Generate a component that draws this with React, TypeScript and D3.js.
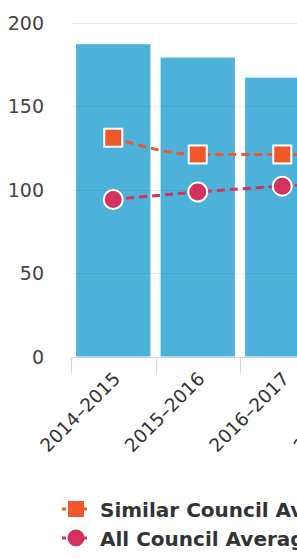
import { useEffect, useRef } from "react";
import * as d3 from "d3";

const categories = ["2014–2015", "2015–2016", "2016–2017", "2017–2018"];
const barValues = [187, 179, 167, 163];
const similarAvg = [131, 121, 121, 121];
const allAvg = [94, 98.5, 102, 105];
const yTicks = [0, 50, 100, 150, 200];
const legendLabels = ["Similar Council Average", "All Council Average"];

const BAR = "#4db2d9";
const ORANGE = "#f0582a";
const CRIMSON = "#d2325d";
const FONT = "'DejaVu Sans', sans-serif";

export default function App() {
  const ref = useRef<SVGSVGElement>(null);

  useEffect(() => {
    const svg = d3.select(ref.current);
    svg.selectAll("*").remove();

    const x = d3
      .scaleBand()
      .domain(categories)
      .range([71, 409])
      .paddingInner(0.12)
      .paddingOuter(0.06);

    const y = d3.scaleLinear().domain([0, 200]).range([356.5, 22.5]);
    const cx = (i: number) => x(categories[i])! + x.bandwidth() / 2;

    // bars
    svg
      .append("g")
      .selectAll("rect")
      .data(barValues)
      .join("rect")
      .attr("x", (_, i) => x(categories[i])!)
      .attr("y", (d) => y(d))
      .attr("width", x.bandwidth())
      .attr("height", (d) => y(0) - y(d))
      .attr("fill", BAR);

    // grid
    svg
      .append("g")
      .selectAll("line")
      .data(yTicks.slice(1))
      .join("line")
      .attr("x1", 71)
      .attr("x2", 430)
      .attr("y1", (d) => Math.round(y(d)) + 0.5)
      .attr("y2", (d) => Math.round(y(d)) + 0.5)
      .attr("stroke", "rgba(60,60,60,0.1)");

    // y labels
    svg
      .append("g")
      .selectAll("text")
      .data(yTicks)
      .join("text")
      .attr("x", 44)
      .attr("y", (d) => y(d) + 7)
      .attr("text-anchor", "end")
      .attr("font-family", FONT)
      .attr("font-size", 19)
      .attr("fill", "#444")
      .text((d) => d);

    // x axis
    const step = x.step();
    const bounds = d3.range(categories.length + 1).map((i) => 71 + i * step);
    svg
      .append("line")
      .attr("x1", 71)
      .attr("x2", 409)
      .attr("y1", 357.5)
      .attr("y2", 357.5)
      .attr("stroke", "#ccd6eb");
    svg
      .append("g")
      .selectAll("line")
      .data(bounds)
      .join("line")
      .attr("x1", (d) => Math.round(d) + 0.5)
      .attr("x2", (d) => Math.round(d) + 0.5)
      .attr("y1", 357)
      .attr("y2", 373)
      .attr("stroke", "#ccd6eb");

    svg
      .append("g")
      .selectAll("text")
      .data(categories)
      .join("text")
      .attr("transform", (_, i) => `translate(${cx(i) + 8},${380}) rotate(-45)`)
      .attr("text-anchor", "end")
      .attr("font-family", FONT)
      .attr("font-size", 18.5)
      .attr("fill", "#333")
      .text((d) => d);

    // lines
    const series = [
      { values: similarAvg, color: ORANGE, shape: "square" },
      { values: allAvg, color: CRIMSON, shape: "circle" },
    ];
    const line = d3
      .line<number>()
      .x((_, i) => cx(i))
      .y((d) => y(d))
      .curve(d3.curveMonotoneX);

    series.forEach((s) => {
      svg
        .append("path")
        .attr("d", line(s.values))
        .attr("fill", "none")
        .attr("stroke", s.color)
        .attr("stroke-width", 3)
        .attr("stroke-dasharray", "8,5");
      const g = svg.append("g");
      s.values.forEach((v, i) => {
        if (s.shape === "square") {
          g.append("rect")
            .attr("x", cx(i) - 9)
            .attr("y", y(v) - 9)
            .attr("width", 18)
            .attr("height", 18)
            .attr("fill", s.color)
            .attr("stroke", "#fff")
            .attr("stroke-width", 2);
        } else {
          g.append("circle")
            .attr("cx", cx(i))
            .attr("cy", y(v))
            .attr("r", 9.5)
            .attr("fill", s.color)
            .attr("stroke", "#fff")
            .attr("stroke-width", 2);
        }
      });
    });

    // legend
    const legend = svg.append("g");
    series.forEach((s, i) => {
      const ly = 509 + i * 29;
      legend
        .append("line")
        .attr("x1", 62)
        .attr("x2", 89)
        .attr("y1", ly)
        .attr("y2", ly)
        .attr("stroke", s.color)
        .attr("stroke-width", 3)
        .attr("stroke-dasharray", "4,3");
      if (s.shape === "square") {
        legend
          .append("rect")
          .attr("x", 68)
          .attr("y", ly - 8)
          .attr("width", 16)
          .attr("height", 16)
          .attr("fill", s.color);
      } else {
        legend
          .append("circle")
          .attr("cx", 76)
          .attr("cy", ly)
          .attr("r", 8.5)
          .attr("fill", s.color);
      }
      legend
        .append("text")
        .attr("x", 100)
        .attr("y", ly + 8)
        .attr("font-family", FONT)
        .attr("font-size", 20)
        .attr("font-weight", "bold")
        .attr("fill", "#333")
        .text(legendLabels[i]);
    });
  }, []);

  return (
    <div
      style={{
        position: "fixed",
        left: 0,
        top: 0,
        width: 297,
        height: 558,
        overflow: "hidden",
        background: "#fff",
      }}
    >
      <svg ref={ref} width={440} height={558}></svg>
    </div>
  );
}
